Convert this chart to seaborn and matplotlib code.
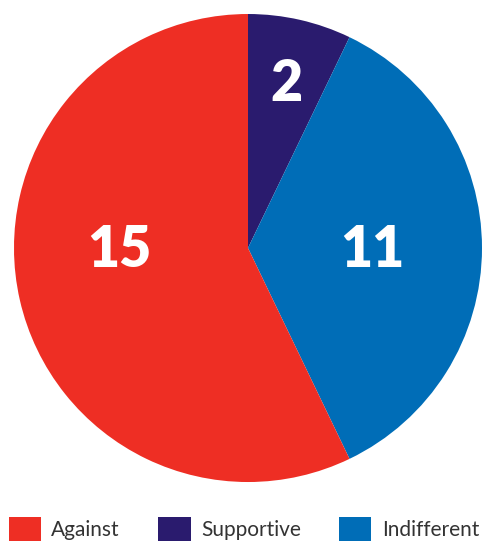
import numpy as np
import matplotlib
matplotlib.use("Agg")
import matplotlib.pyplot as plt
from matplotlib.patches import Patch
import seaborn as sns

# ---- data ----
categories = ["Supportive", "Indifferent", "Against"]
labels = ["2", "11", "15"]           # numbers printed on the slices
slice_sizes = [2, 10, 16]            # slice shares as drawn in the picture
colors = ["#2A1B6E", "#006DB7", "#EE2E24"]
legend_order = ["Against", "Supportive", "Indifferent"]

sns.set_theme(style="white")
plt.rcParams['font.family'] = ['Lato', 'DejaVu Sans']

fig = plt.figure(figsize=(4.89, 5.43), dpi=100)
ax = fig.add_axes([0.0286, 0.1123, 0.9571, 0.8619])

wedges, _ = ax.pie(slice_sizes, colors=colors, startangle=90, counterclock=False,
                   radius=1, wedgeprops=dict(linewidth=0))

# number labels inside slices (big slices get their label on the horizontal)
label_dist = [0.73, 0.53, 0.55]
horizontal = [False, True, True]
for w, lab, d, flat in zip(wedges, labels, label_dist, horizontal):
    mid = np.deg2rad((w.theta1 + w.theta2) / 2)
    x = d * np.cos(mid)
    y = 0.0 if flat else d * np.sin(mid)
    if flat:
        x = d * np.sign(np.cos(mid))
    ax.text(x, y - 0.01, lab, color="white",
            fontsize=40, fontweight="heavy", ha="center", va="center")

ax.set_xlim(-1, 1)
ax.set_ylim(-1, 1)
ax.set_aspect("equal")
ax.axis("off")

# legend at bottom
cmap = dict(zip(categories, colors))
handles = [Patch(facecolor=cmap[c], edgecolor="none", label=c) for c in legend_order]
fig.legend(handles=handles, loc="center left", bbox_to_anchor=(0.018, 0.026),
           ncol=3, frameon=False, fontsize=15, handlelength=1.54, handleheight=1.35,
           handletextpad=0.5, columnspacing=1.85, borderpad=0, borderaxespad=0,
           labelcolor="#333333")

fig.savefig("out.png", dpi=100)
